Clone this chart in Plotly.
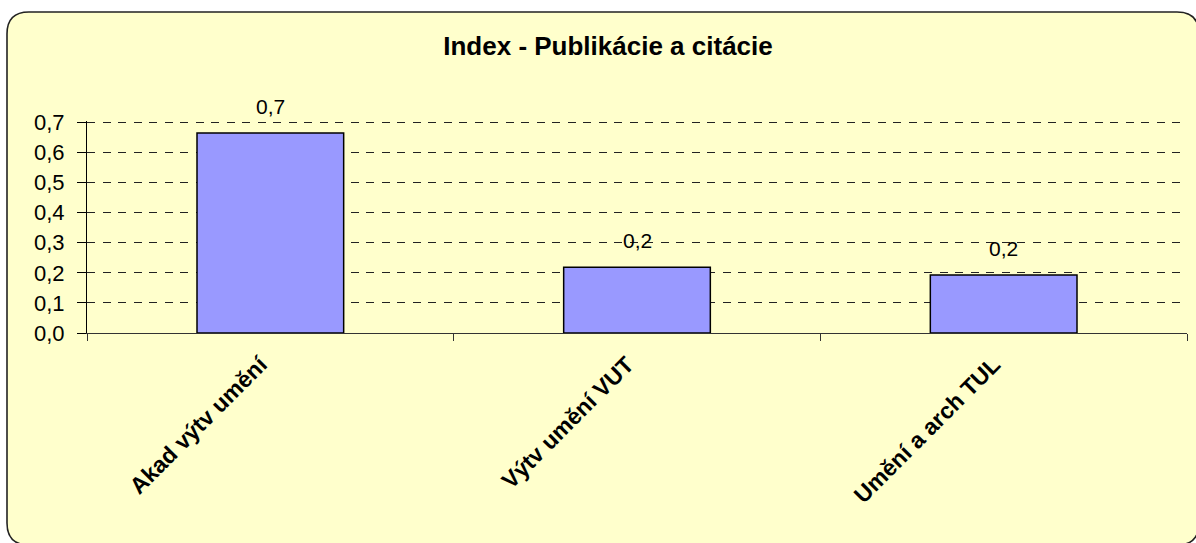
import plotly.graph_objects as go

categories = ["Akad výtv umění", "Výtv umění VUT", "Umění a arch TUL"]
values = [0.665, 0.219, 0.193]
y_ticks = [0.0, 0.1, 0.2, 0.3, 0.4, 0.5, 0.6, 0.7]
y_tick_text = ["0,0", "0,1", "0,2", "0,3", "0,4", "0,5", "0,6", "0,7"]

W, H = 1196, 543
L, R, T, B = 87, 9, 121, 210
pw, ph = W - L - R, H - T - B

def px(x):
    return (x - L) / pw

def py(y):
    return (H - B - y) / ph

# rounded rectangle in pixel coords -> paper coords
x0, y0, x1, y1, r = 7, 12, 1199, 545, 22
path = (
    f"M {px(x0 + r)},{py(y0)} L {px(x1 - r)},{py(y0)} "
    f"Q {px(x1)},{py(y0)} {px(x1)},{py(y0 + r)} "
    f"L {px(x1)},{py(y1 - r)} Q {px(x1)},{py(y1)} {px(x1 - r)},{py(y1)} "
    f"L {px(x0 + r)},{py(y1)} Q {px(x0)},{py(y1)} {px(x0)},{py(y1 - r)} "
    f"L {px(x0)},{py(y0 + r)} Q {px(x0)},{py(y0)} {px(x0 + r)},{py(y0)} Z"
)

FONT = "Arial, Liberation Sans, sans-serif"

fig = go.Figure()
fig.add_trace(go.Bar(
    x=categories, y=values,
    marker=dict(color="#9999FF", line=dict(color="black", width=1.5)),
    cliponaxis=False,
))

annotations = [
    dict(x=c, y=v, xref="x", yref="y", text=f"{v:.1f}".replace(".", ","),
         showarrow=False, yanchor="bottom", yshift=13,
         font=dict(family=FONT, size=21, color="black"))
    for c, v in zip(categories, values)
]

fig.update_layout(
    width=W, height=H,
    margin=dict(l=L, r=R, t=T, b=B),
    paper_bgcolor="white",
    plot_bgcolor="rgba(0,0,0,0)",
    bargap=0.6,
    showlegend=False,
    title=dict(
        text="<b>Index - Publikácie a citácie</b>",
        x=(608 - L) / pw, xref="paper", xanchor="center",
        y=1 - 46 / H, yanchor="middle",
        font=dict(family=FONT, size=26, color="black"),
    ),
    annotations=annotations,
    shapes=[dict(
        type="path", xref="paper", yref="paper", path=path,
        fillcolor="#FFFFCC", line=dict(color="#222222", width=1.6),
        layer="below",
    )],
    font=dict(family=FONT, color="black"),
)

fig.update_xaxes(
    showgrid=False, showline=True, linecolor="#333333", linewidth=1,
    ticks="outside", ticklen=7, tickcolor="#333333", tickson="boundaries",
    tickangle=-45, ticklabelstandoff=8, ticklabelshift=-10,
    tickfont=dict(family=FONT, size=23, color="black", weight="bold"),
)
fig.update_yaxes(
    range=[0, 0.705], tickvals=y_ticks, ticktext=y_tick_text,
    showline=True, linecolor="black", linewidth=1,
    ticks="outside", ticklen=9, tickcolor="black", ticklabelstandoff=8,
    showgrid=True, gridcolor="#222222", gridwidth=1, griddash="8px,7.5px",
    zeroline=False,
    tickfont=dict(family=FONT, size=22, color="black"),
)

fig.write_html(
    "out.html",
    config={"displayModeBar": False},
    post_script="document.body.style.margin='0';document.body.style.overflow='hidden';",
)
